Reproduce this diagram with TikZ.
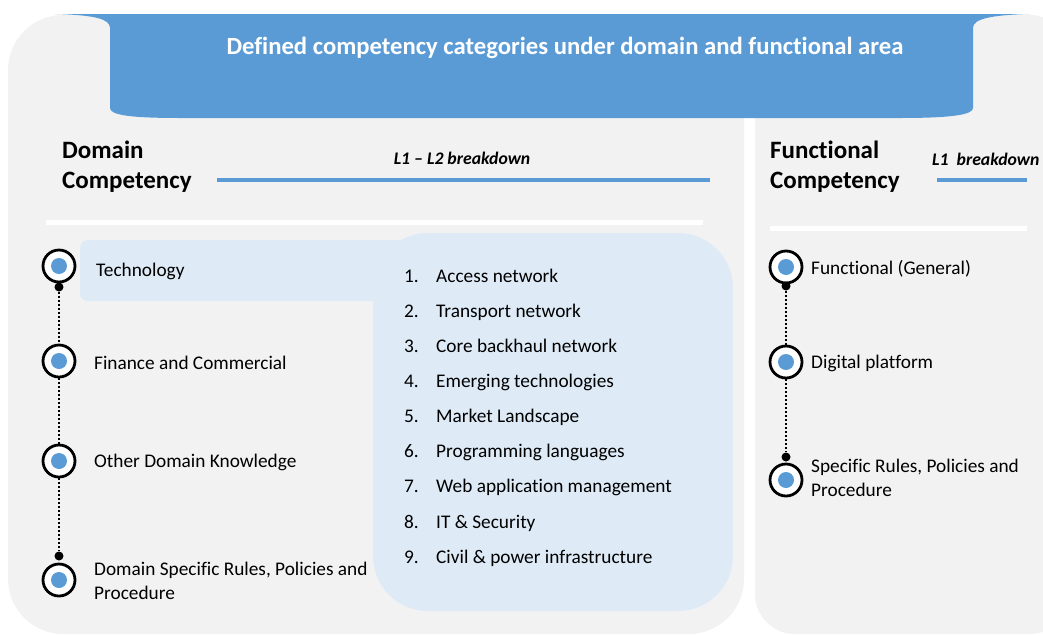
\documentclass[tikz,border=0pt]{standalone}
\usepackage{fontspec}
\setmainfont{Carlito}[Ligatures=NoCommon]
\usetikzlibrary{positioning}
\definecolor{bannerblue}{HTML}{5B9BD5}
\definecolor{panelgray}{HTML}{F2F2F2}
\definecolor{paleblue}{HTML}{DEEBF7}
\tikzset{
	panel/.style={fill=panelgray},
	ring/.style={circle, draw=black, line width=2.8pt, fill=white, minimum size=32pt, inner sep=0pt,
		path picture={\fill[bannerblue] (path picture bounding box.center) circle (8pt);}},
	knob/.style={circle, fill=black, minimum size=9pt, inner sep=0pt},
	link/.style={black, line width=2pt, dash pattern=on 2pt off 2pt},
	cat/.style={anchor=west, inner sep=0pt, align=left, font=\fontsize{19.3}{24.5}\selectfont},
	head/.style={anchor=west, inner sep=0pt, align=left, font=\fontsize{25}{30}\selectfont\bfseries},
	tag/.style={inner sep=0pt, font=\fontsize{17.7}{20}\selectfont\bfseries\itshape},
	item/.style={anchor=base west, inner sep=0pt, font=\fontsize{19.3}{24}\selectfont},
	rule/.style={line width=4pt}}

\begin{document}
\begin{tikzpicture}[x=1pt, y=-1pt]
	\useasboundingbox (0,0) rectangle (1043,635);
	% panels
	\fill[panel, rounded corners=55pt] (8,15) rectangle (744,634);
	\fill[panel, rounded corners=40pt] (755,15) rectangle (1070,634);
	
	% banner
	\fill[bannerblue] (55,14) -- (1030,14)
		.. controls (990,15) and (973,19) .. (973,28) -- (973,108)
		.. controls (973,115) and (950,118) .. (900,118) -- (180,118)
		.. controls (130,118) and (110,115) .. (110,108) -- (110,28)
		.. controls (110,19) and (95,15) .. cycle;
	\node[text=white, font=\fontsize{24.7}{30}\selectfont\bfseries] (title) at (565,48)
		{Defined competency categories under domain and functional area};
	
	% headings
	\node[head] (dom) at (62,167) {Domain\\Competency};
	\node[head] (fun) at (770,167) {Functional\\Competency};
	\node[tag] (l12) at (462,158) {L1 -- L2 breakdown};
	\node[tag, anchor=west] (l1) at (932,159) {L1\ \ breakdown};
	\draw[rule, bannerblue] (217,180) -- (710,180);
	\draw[rule, bannerblue] (937,180) -- (1027,180);
	\draw[line width=5pt, white] (46,222) -- (703,222);
	\draw[line width=5pt, white] (770,228) -- (1027,228);
	
	% L2 box
	\fill[paleblue, rounded corners=8pt] (80,240) rectangle (430,301);
	\fill[paleblue, rounded corners=55pt] (373,233) rectangle (733,611);
	\foreach \t [count=\i] in {Access network, Transport network, Core backhaul network,
		Emerging technologies, Market Landscape, Programming languages,
		Web application management, IT \& Security, Civil \& power infrastructure}
	{
		\node[item] (n\i) at (404,247+35.125*\i) {\i.};
		\node[item] (i\i) at (436,247+35.125*\i) {\t};
	}
	
	% domain timeline
	\node[ring] (t1) at (59,266) {};
	\node[knob] (k1) at (59,287) {};
	\node[ring] (t2) at (59,361) {};
	\node[ring] (t3) at (59,461) {};
	\node[knob] (k3) at (59,556) {};
	\node[ring] (t4) at (59,580) {};
	\draw[link] (k1) -- (t2);
	\draw[link] (t2) -- (t3);
	\draw[link] (t3) -- (k3);
	\node[cat] (c1) at (96,271) {Technology};
	\node[cat] (c2) at (94,363) {Finance and Commercial};
	\node[cat] (c3) at (94,462) {Other Domain Knowledge};
	\node[cat] (c4) at (94,581) {Domain Specific Rules, Policies and\\Procedure};
	
	% functional timeline
	\node[ring] (f1) at (786,267) {};
	\node[knob] (g1) at (786,286) {};
	\node[ring] (f2) at (786,362) {};
	\node[knob] (g3) at (786,457) {};
	\node[ring] (f3) at (786,480) {};
	\draw[link] (g1) -- (f2);
	\draw[link] (f2) -- (g3);
	\node[cat] (e1) at (811,269) {Functional (General)};
	\node[cat] (e2) at (811,363) {Digital platform};
	\node[cat] (e3) at (811,478) {Specific Rules, Policies and\\Procedure};
\end{tikzpicture}
\end{document}
